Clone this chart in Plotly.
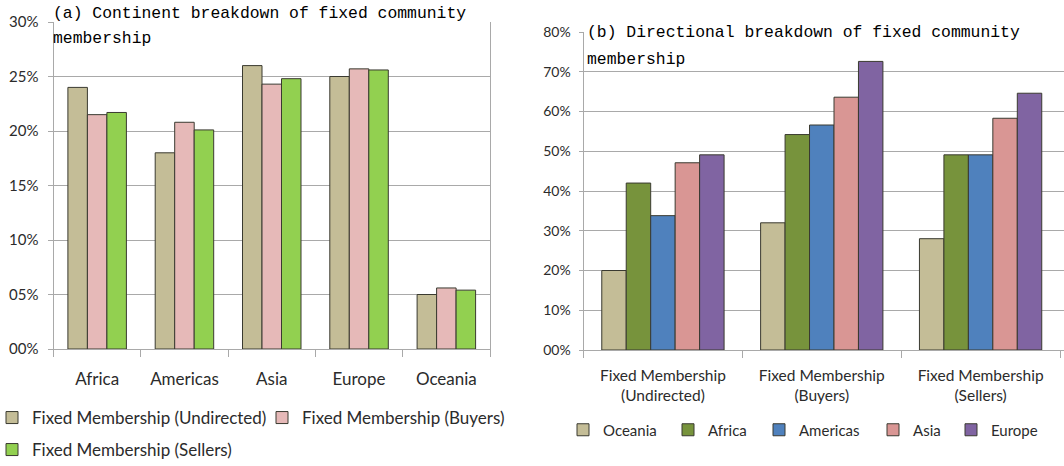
import plotly.graph_objects as go

# ---- (a) continent breakdown ----
continents = ["Africa", "Americas", "Asia", "Europe", "Oceania"]
undirected = [24.0, 18.0, 26.0, 25.0, 5.0]
buyers = [21.5, 20.8, 24.3, 25.7, 5.6]
sellers = [21.7, 20.1, 24.8, 25.6, 5.4]
left_tick_values = [0, 5, 10, 15, 20, 25, 30]
left_tick_labels = ["00%", "05%", "10%", "15%", "20%", "25%", "30%"]

# ---- (b) directional breakdown ----
memberships = [
    "Fixed Membership<br>(Undirected)",
    "Fixed Membership<br>(Buyers)",
    "Fixed Membership<br>(Sellers)",
]
oceania = [20.0, 32.0, 28.0]
africa = [42.0, 54.2, 49.1]
americas = [33.8, 56.6, 49.1]
asia = [47.1, 63.6, 58.3]
europe = [49.1, 72.6, 64.6]
right_tick_values = [0, 10, 20, 30, 40, 50, 60, 70, 80]
right_tick_labels = ["00%", "10%", "20%", "30%", "40%", "50%", "60%", "70%", "80%"]

W, H = 1064, 466
FONT = "Lato"
MONO = "Liberation Mono"
GRID = "#a9a9a9"
TEXT = "#2b2b2b"
OUTLINE = dict(color="#3a3a30", width=1)

LEFT_GAP = 0.33    # gap between continent groups in (a)
RIGHT_GAP = 0.23   # gap between membership groups in (b)


def px_x(p):
    return p / W


def px_y(p):
    return 1 - p / H


fig = go.Figure()

left_series = [
    ("Fixed Membership (Undirected)", undirected, "#c4bd97", "legend", 225),
    ("Fixed Membership (Buyers)", buyers, "#e6b9b8", "legend", None),
    ("Fixed Membership (Sellers)", sellers, "#92d050", "legend2", None),
]
group_w = 1 - LEFT_GAP
bar_w = group_w / len(left_series)
for i, (name, vals, color, leg, lw) in enumerate(left_series):
    fig.add_trace(go.Bar(
        x=continents, y=vals, name=name, xaxis="x", yaxis="y",
        width=bar_w, offset=-group_w / 2 + i * bar_w,
        marker=dict(color=color, line=OUTLINE), legend=leg,
        legendwidth=lw, hoverinfo="skip",
    ))

right_series = [
    ("Oceania", oceania, "#c4bd97", 60),
    ("Africa", africa, "#77933c", 46),
    ("Americas", americas, "#4f81bd", 69),
    ("Asia", asia, "#d99694", 33),
    ("Europe", europe, "#8064a2", None),
]
for name, vals, color, lw in right_series:
    fig.add_trace(go.Bar(
        x=memberships, y=vals, name=name, xaxis="x2", yaxis="y2",
        marker=dict(color=color, line=OUTLINE), legend="legend3",
        legendwidth=lw, hoverinfo="skip",
    ))

fig.update_layout(
    width=W, height=H,
    margin=dict(l=0, r=0, t=0, b=0, autoexpand=False),
    paper_bgcolor="white", plot_bgcolor="white",
    barmode="group",
    bargap=RIGHT_GAP,
    showlegend=True,
    font=dict(family=FONT, color=TEXT),
    xaxis=dict(
        domain=[px_x(53.5), px_x(490)], range=[-0.5, 4.5],
        anchor="y", type="category",
        showline=True, linecolor=GRID, linewidth=1, mirror=False,
        ticks="outside", tickson="boundaries", ticklen=7, tickcolor=GRID,
        showgrid=False, tickfont=dict(size=17, family=FONT, color=TEXT),
        ticklabelstandoff=15, fixedrange=True,
    ),
    yaxis=dict(
        domain=[px_y(349), px_y(22)], range=[0, 30], anchor="x",
        tickvals=left_tick_values, ticktext=left_tick_labels,
        showline=True, linecolor=GRID, linewidth=1, mirror=True,
        ticks="outside", ticklen=5, tickcolor=GRID,
        showgrid=True, gridcolor=GRID, gridwidth=1, zeroline=False,
        tickfont=dict(size=15, family=FONT, color=TEXT),
        ticklabelstandoff=6, fixedrange=True,
    ),
    xaxis2=dict(
        domain=[px_x(583.5), 1.0], range=[-0.5, 2.525],
        anchor="y2", type="category",
        showline=True, linecolor=GRID, linewidth=1,
        ticks="outside", tickson="boundaries", ticklen=7, tickcolor=GRID,
        showgrid=False, tickfont=dict(size=15.5, family=FONT, color=TEXT),
        ticklabelstandoff=11, fixedrange=True,
    ),
    yaxis2=dict(
        domain=[px_y(350), px_y(32)], range=[0, 80], anchor="x2",
        tickvals=right_tick_values, ticktext=right_tick_labels,
        showline=True, linecolor=GRID, linewidth=1,
        ticks="outside", ticklen=4, tickcolor=GRID,
        showgrid=True, gridcolor=GRID, gridwidth=1, zeroline=False,
        tickfont=dict(size=14, family=FONT, color=TEXT),
        ticklabelstandoff=5, fixedrange=True,
    ),
    legend=dict(
        orientation="h", x=px_x(-8), xanchor="left", y=px_y(418), yanchor="middle",
        bgcolor="rgba(0,0,0,0)", font=dict(size=17, family=FONT, color=TEXT),
        itemclick=False, itemdoubleclick=False,
    ),
    legend2=dict(
        orientation="h", x=px_x(-8), xanchor="left", y=px_y(450), yanchor="middle",
        bgcolor="rgba(0,0,0,0)", font=dict(size=17, family=FONT, color=TEXT),
        itemclick=False, itemdoubleclick=False,
    ),
    legend3=dict(
        orientation="h", x=px_x(563), xanchor="left", y=px_y(430), yanchor="middle",
        bgcolor="rgba(0,0,0,0)", font=dict(size=15, family=FONT, color=TEXT),
        itemclick=False, itemdoubleclick=False,
    ),
)

titles = [
    ("(a) Continent breakdown of fixed community", 51, 13.5),
    ("membership", 51, 38.5),
    ("(b) Directional breakdown of fixed community", 585, 32.5),
    ("membership", 585, 59.5),
]
for text, x0, yc in titles:
    fig.add_annotation(
        text=text, xref="paper", yref="paper", x=px_x(x0), y=px_y(yc),
        xanchor="left", yanchor="middle", showarrow=False,
        font=dict(family=MONO, size=16.4, color="#000000"),
    )

fig.write_html("out.html", config={"displayModeBar": False})
